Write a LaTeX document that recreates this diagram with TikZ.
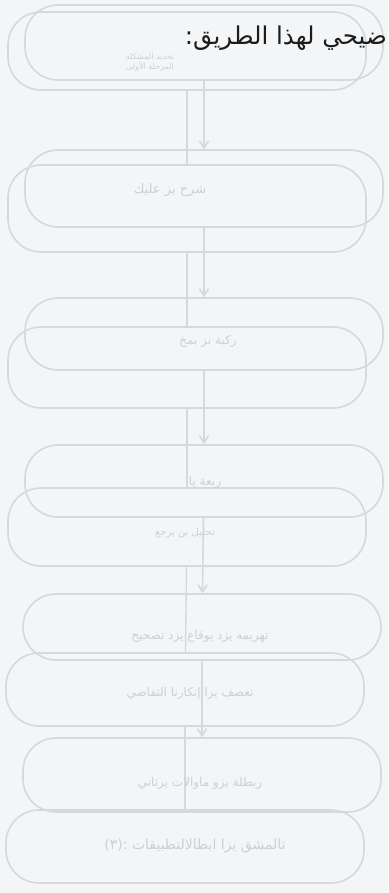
\documentclass[tikz,border=0pt]{standalone}
\usepackage{fontspec}
\newfontfamily\arabicfont[Script=Arabic]{DejaVu Sans}
\TeXXeTstate=1
\usetikzlibrary{arrows.meta}
\definecolor{paper}{HTML}{F3F5F7}
\definecolor{ghost}{HTML}{D6D9DC}
\definecolor{ghosttext}{HTML}{CDD0D3}
\definecolor{ink}{HTML}{1C1C1C}
\begin{document}
\begin{tikzpicture}[x=1pt,y=-1pt,
  stadiumA/.style={draw=ghost, line width=1.6pt, rounded corners=33pt, inner sep=0pt, minimum width=358pt},
  stadiumB/.style={draw=ghost, line width=1.6pt, rounded corners=33pt, inner sep=0pt, minimum width=358pt},
  ghostarrow/.style={draw=ghost, line width=1.6pt, -{Straight Barb[length=7pt,width=9pt]}},
  ghostline/.style={draw=ghost, line width=1.4pt},
  ghosttxt/.style={text=ghosttext, inner sep=0pt, font=\arabicfont\fontsize{12}{14}\selectfont},
  titletxt/.style={text=ink, inner sep=0pt, font=\arabicfont\fontsize{24.5}{28}\selectfont}]
\useasboundingbox[fill=paper] (0,0) rectangle (388,893);
% set A of ghost boxes
\node[stadiumA, minimum height=75pt] (a1) at (204,42.5) {};
\node[stadiumA, minimum height=77pt] (a2) at (204,188.5) {};
\node[stadiumA, minimum height=72pt] (a3) at (204,334) {};
\node[stadiumA, minimum height=72pt] (a4) at (204,481) {};
\node[stadiumA, minimum height=66pt] (a5) at (202,627) {};
\node[stadiumA, minimum height=74pt] (a6) at (202,775) {};
% set B of ghost boxes
\node[stadiumB, minimum height=78pt] (b1) at (187,51) {};
\node[stadiumB, minimum height=87pt] (b2) at (187,208.5) {};
\node[stadiumB, minimum height=81pt] (b3) at (187,367.5) {};
\node[stadiumB, minimum height=78pt] (b4) at (187,527) {};
\node[stadiumB, minimum height=73pt] (b5) at (185,689.5) {};
\node[stadiumB, minimum height=73pt] (b6) at (185,846.5) {};
% connectors
\draw[ghostarrow] (a1) -- (a2);
\draw[ghostarrow] (a2) -- (a3);
\draw[ghostarrow] (a3) -- (a4);
\draw[ghostarrow] (a4) -- (a5);
\draw[ghostarrow] (a5) -- (a6);
\draw[ghostline] (b1) -- (b2);
\draw[ghostline] (b2) -- (b3);
\draw[ghostline] (b3) -- (b4);
\draw[ghostline] (b4) -- (b5);
\draw[ghostline] (b5) -- (b6);
% ghost texts
\node[ghosttxt, font=\arabicfont\fontsize{8}{10}\selectfont, align=center] (t1) at (150,62) {\beginR تحديد المشكلة\endR\\\beginR المرحلة الأولى\endR};
\node[ghosttxt, font=\arabicfont\fontsize{13}{15}\selectfont] (t2) at (170,190) {\beginR شرح يز عليك\endR};
\node[ghosttxt] (t3) at (208,341) {\beginR ركبة نز بمخ\endR};
\node[ghosttxt] (t4) at (205,482) {\beginR ربعة يا\endR};
\node[ghosttxt, font=\arabicfont\fontsize{10}{12}\selectfont] (t4b) at (185,533) {\beginR تحليل ين يرجع\endR};
\node[ghosttxt] (t5) at (200,636) {\beginR تهريمه يزد يوقاع يزد تصحيح\endR};
\node[ghosttxt] (t6) at (190,693) {\beginR تعصف يزا إنكارنا التفاضي\endR};
\node[ghosttxt] (t7) at (200,783) {\beginR ربطلة يزو ماوالات يرثاني\endR};
\node[ghosttxt, font=\arabicfont\fontsize{14}{16}\selectfont] (t8) at (195,846) {\beginR تالمشق يزا ابطالالتطبيقات :(٣)\endR};
% title as printed (its start is cut by the page edge)
\node[titletxt, anchor=base east] (title) at (387,45) {\beginR ضيحي لهذا الطريق:\endR};
\end{tikzpicture}
\end{document}
